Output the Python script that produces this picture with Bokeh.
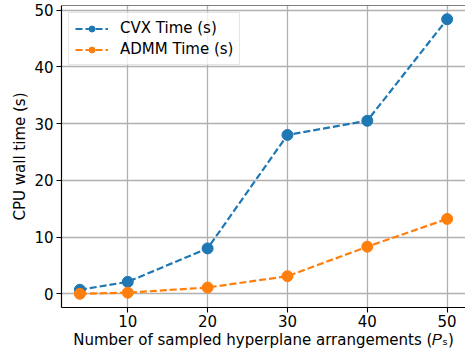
from bokeh.plotting import figure
from bokeh.models import Range1d, Legend, LegendItem, Span, FixedTicker
from bokeh.embed import file_html
from bokeh.resources import INLINE

# Data
num_arrangements = [4, 10, 20, 30, 40, 50]
cvx_time = [0.7, 2.1, 8.0, 28.0, 30.5, 48.4]
admm_time = [0.0, 0.2, 1.1, 3.1, 8.3, 13.2]
x_ticks = [10, 20, 30, 40, 50]
y_ticks = [0, 10, 20, 30, 40, 50]

FONT = "DejaVu Sans"
FS = "15px"
BLUE = "#1f77b4"
ORANGE = "#ff7f0e"

p = figure(width=465, height=354, output_backend="svg", toolbar_location=None,
           x_range=Range1d(1.7, 52.3), y_range=Range1d(-2.42, 50.82),
           min_border_left=61, min_border_right=0, min_border_top=5, min_border_bottom=47)
p.outline_line_color = None
p.background_fill_color = "white"
p.border_fill_color = "white"

for ax in (p.xaxis[0], p.yaxis[0]):
    ax.axis_line_color = "black"
    ax.axis_line_width = 1.2
    ax.major_tick_in = 0
    ax.major_tick_out = 5
    ax.major_tick_line_width = 1.1
    ax.minor_tick_line_color = None
    ax.major_label_text_font = FONT
    ax.major_label_text_font_size = FS
    ax.major_label_text_color = "black"
    ax.axis_label_text_font = FONT
    ax.axis_label_text_font_size = FS
    ax.axis_label_text_font_style = "normal"
    ax.axis_label_text_color = "black"

p.xaxis.ticker = FixedTicker(ticks=x_ticks)
p.yaxis.ticker = FixedTicker(ticks=y_ticks)
p.xaxis.major_label_standoff = 2
p.yaxis.major_label_standoff = 3
p.xaxis.axis_label = "Number of sampled hyperplane arrangements (\U0001D443\u209B)"
p.yaxis.axis_label = "CPU wall time (s)"
p.xaxis.axis_label_standoff = 1
p.yaxis.axis_label_standoff = 2

p.xgrid.ticker = FixedTicker(ticks=x_ticks)
p.ygrid.ticker = FixedTicker(ticks=y_ticks)
for g in (p.xgrid[0], p.ygrid[0]):
    g.grid_line_color = "#b0b0b0"
    g.grid_line_width = 1.3

# top spine
p.add_layout(Span(location=p.y_range.end, dimension="width", line_color="black", line_width=1.2))

l1 = p.line(num_arrangements, cvx_time, line_color=BLUE, line_width=2.2, line_dash="7 3")
s1 = p.scatter(num_arrangements, cvx_time, size=11, fill_color=BLUE, line_color=BLUE)
l2 = p.line(num_arrangements, admm_time, line_color=ORANGE, line_width=2.2, line_dash="7 3")
s2 = p.scatter(num_arrangements, admm_time, size=11, fill_color=ORANGE, line_color=ORANGE)

legend = Legend(items=[LegendItem(label="CVX Time (s)", renderers=[l1, s1]),
                       LegendItem(label="ADMM Time (s)", renderers=[l2, s2])],
                location="top_left")
legend.margin = 7
legend.padding = 6
legend.spacing = 3
legend.label_height = 15
legend.glyph_height = 15
legend.glyph_width = 33
legend.label_standoff = 12
legend.label_text_font = FONT
legend.label_text_font_size = FS
legend.label_text_color = "black"
legend.border_line_color = "#cccccc"
legend.border_line_width = 1
legend.background_fill_color = "white"
legend.background_fill_alpha = 0.8
p.add_layout(legend)

open("out.html", "w").write(file_html(p, INLINE))
